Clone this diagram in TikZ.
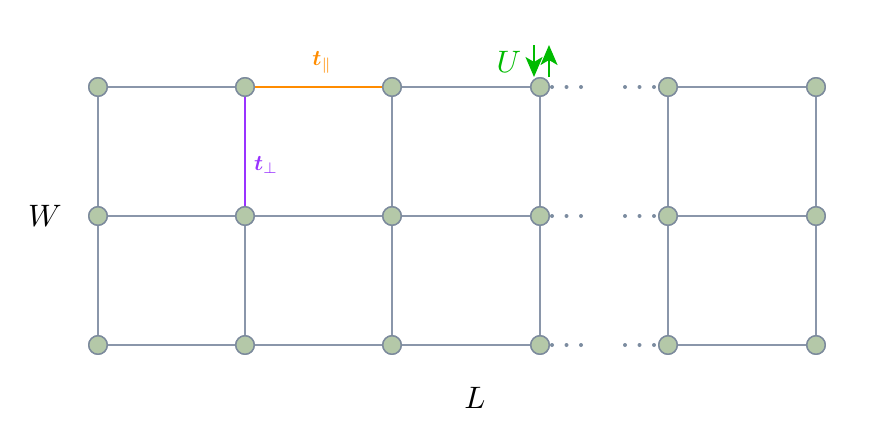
\documentclass[tikz,border=0pt]{standalone}
\usepackage{amsmath,bm}
\usetikzlibrary{arrows.meta}
\definecolor{edgec}{HTML}{8A96AA}
\definecolor{nodefill}{HTML}{B4C8A8}
\definecolor{nodedraw}{HTML}{7C8A9C}
\definecolor{dotc}{HTML}{7C8CA0}
\definecolor{orangec}{HTML}{FF8C00}
\definecolor{purplec}{HTML}{9933FF}
\definecolor{greenc}{HTML}{00BB00}
\newcommand{\bigtxt}[1]{\scalebox{3.1}{#1}}
\newcommand{\ttxt}[1]{\scalebox{2.2}{#1}}
\tikzset{
  site/.style={circle,fill=nodefill,draw=nodedraw,line width=1.4pt,minimum size=18.5pt,inner sep=0pt},
  bond/.style={draw=edgec,line width=1.6pt},
  dotsline/.style={draw=dotc,line width=4pt,dash pattern=on 0pt off 14.5pt,line cap=round},
  spin/.style={greenc,line width=2.2pt,-{Stealth[width=17pt,length=20pt,inset=5pt]}},
}
\begin{document}
\begin{tikzpicture}[x=1pt,y=-1pt]
\useasboundingbox (0,0) rectangle (870,437);
\foreach \r/\y in {1/87,2/216,3/345}{
  \foreach \c/\x in {1/98,2/245,3/392,4/540,5/668,6/816}{
    \node[site] (n\r\c) at (\x,\y) {};
  }
}
% horizontal bonds
\foreach \r in {1,2,3}{
  \draw[bond] (n\r1) -- (n\r2);
  \draw[bond] (n\r3) -- (n\r4);
  \draw[bond] (n\r5) -- (n\r6);
  \draw[dotsline] ([xshift=12pt]n\r4.center) -- ([xshift=41pt]n\r4.center);
  \draw[dotsline] ([xshift=-43pt]n\r5.center) -- ([xshift=-14pt]n\r5.center);
}
\draw[bond] (n22) -- (n23);
\draw[bond] (n32) -- (n33);
\draw[orangec,line width=1.6pt] (n12) -- (n13);
% vertical bonds
\foreach \c in {1,3,4,5,6}{
  \draw[bond] (n1\c) -- (n2\c);
  \draw[bond] (n2\c) -- (n3\c);
}
\draw[purplec,line width=1.6pt] (n12) -- (n22);
\draw[bond] (n22) -- (n32);
% redraw sites on top
\foreach \r/\y in {1/87,2/216,3/345}{
  \foreach \c/\x in {1/98,2/245,3/392,4/540,5/668,6/816}{
    \node[site] at (\x,\y) {};
  }
}
% labels
\node[text=orangec] (tpar) at (322,62) {\ttxt{$\bm{t}_{\parallel}$}};
\node[text=purplec] (tperp) at (266,165) {\ttxt{$\bm{t}_{\perp}$}};
\node (W) at (45,216) {\bigtxt{$W$}};
\node (L) at (475,398) {\bigtxt{$L$}};
\node[text=greenc] (U) at (509,62) {\bigtxt{$U$}};
\coordinate (dtop) at (534,45);
\coordinate (dbot) at (534,77);
\coordinate (utop) at (549,45);
\coordinate (ubot) at (549,77);
\draw[spin] (dtop) -- (dbot);
\draw[spin] (ubot) -- (utop);
\end{tikzpicture}
\end{document}
